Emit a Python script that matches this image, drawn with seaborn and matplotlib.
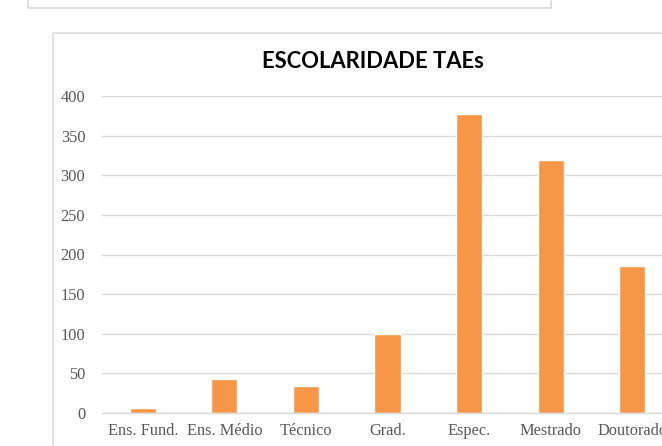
import pandas as pd
import seaborn as sns
import matplotlib.pyplot as plt
from matplotlib.patches import Rectangle

# Data
categorias = ['Ens. Fund.', 'Ens. Médio', 'Técnico', 'Grad.', 'Espec.', 'Mestrado', 'Doutorado']
valores = [6, 43, 34, 100, 377, 319, 185]
y_ticks = [0, 50, 100, 150, 200, 250, 300, 350, 400]

W, H = 662, 446
df = pd.DataFrame({'cat': categorias, 'val': valores})

sns.set_style('white')
plt.rcParams['font.family'] = ['Liberation Serif', 'DejaVu Serif']

fig = plt.figure(figsize=(W / 100, H / 100), dpi=100)

# Outer boxes (Excel chart frame + box above it)
fig.patches.append(Rectangle((53 / W, (H - 33) / H), 700 / W, -(H) / H,
                             transform=fig.transFigure, fill=False,
                             edgecolor='#D9D9D9', linewidth=1.2))
fig.patches.append(Rectangle((28 / W, (H - 8) / H), (551 - 28) / W, 30 / H,
                             transform=fig.transFigure, fill=False,
                             edgecolor='#D9D9D9', linewidth=1.2))

ax = fig.add_axes([102 / W, (H - 413) / H, (673 - 102) / W, (413 - 96) / H])
sns.barplot(data=df, x='cat', y='val', color='#F79646', saturation=1,
            width=0.32, ax=ax)

ax.set_ylim(0, 400)
ax.set_yticks(y_ticks)
ax.set_xlim(-0.5, len(categorias) - 0.5)
ax.yaxis.grid(True, color='#D9D9D9', linewidth=1)
ax.set_axisbelow(True)
for s in ['top', 'right', 'left']:
    ax.spines[s].set_visible(False)
ax.spines['bottom'].set_color('#D9D9D9')
ax.spines['bottom'].set_linewidth(1)
ax.tick_params(axis='both', length=0, labelsize=11.8, labelcolor='#595959')
ax.tick_params(axis='y', pad=12)
ax.tick_params(axis='x', pad=7)
ax.set_xlabel('')
ax.set_ylabel('')

fig.text(373 / W, (H - 62) / H, 'ESCOLARIDADE TAEs', ha='center', va='center',
         fontsize=15.8, fontweight='bold', family=['Lato', 'DejaVu Sans'], color='black')

fig.savefig('out.png', dpi=100)
